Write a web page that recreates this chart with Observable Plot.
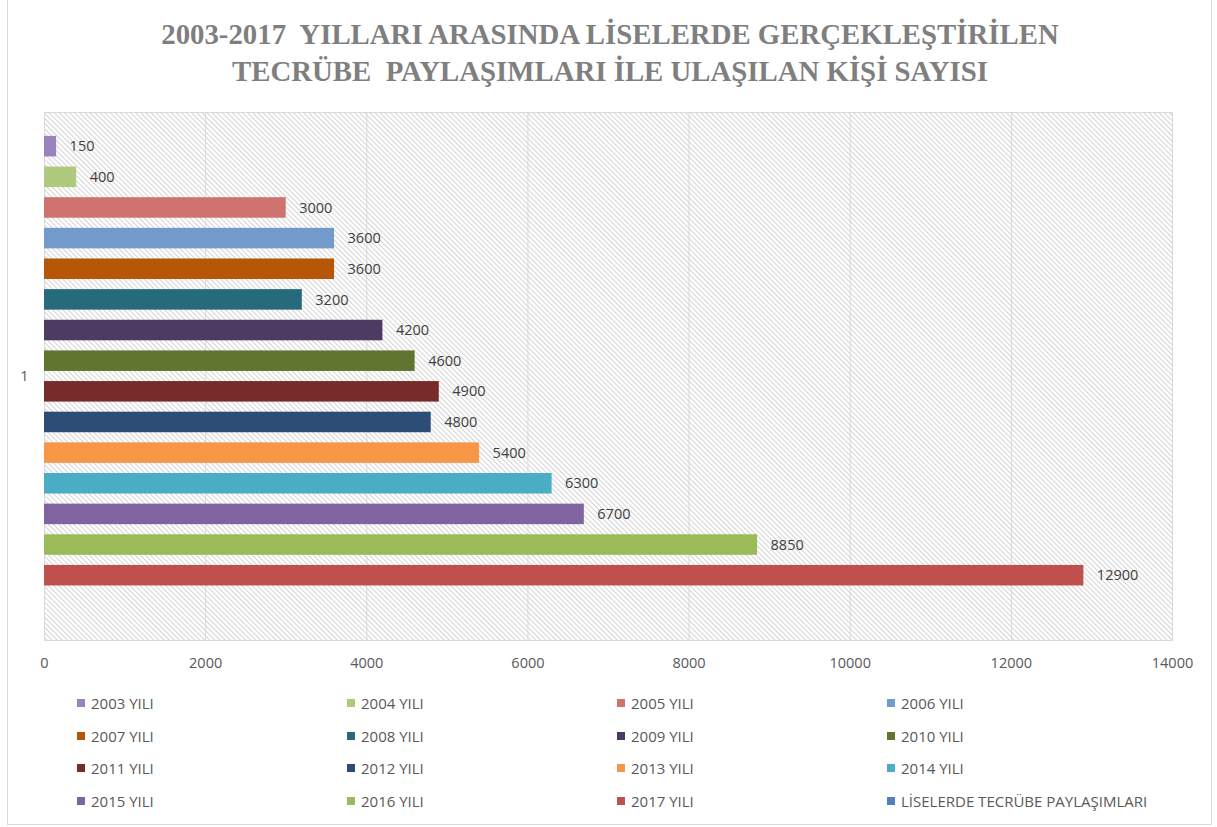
<!DOCTYPE html>
<html>
<head>
<meta charset="utf-8">
<script src="https://cdn.jsdelivr.net/npm/d3@7"></script>
<script src="https://cdn.jsdelivr.net/npm/@observablehq/plot@0.6"></script>
<style>
  html, body { margin: 0; padding: 0; background: #fff; }
  #wrap { position: relative; width: 1217px; height: 827px; overflow: hidden; }
  #border { position: absolute; left: 7px; top: -1px; width: 1205px; height: 826px; border: 1px solid #d9d9d9; box-sizing: border-box; }
  #title { position: absolute; left: 7px; top: 16px; width: 1206px; text-align: center; white-space: pre;
    font-family: "Liberation Serif", serif; font-weight: bold; font-size: 28.8px; line-height: 37px; color: #7f7f7f; }
  #chart { position: absolute; left: 0; top: 100px; }
  #legend { position: absolute; left: 77px; top: 687px; display: grid; grid-template-columns: repeat(4, 270px); grid-auto-rows: 32.5px;
    font-family: "Open Sans", sans-serif; font-size: 15px; color: #595959; }
  .item { display: flex; align-items: center; }
  .sw { width: 8px; height: 8px; margin-right: 6px; flex: none; }
</style>
</head>
<body>
<div id="wrap">
  <div id="border"></div>
  <div id="title"></div>
  <div id="chart"></div>
  <div id="legend"></div>
</div>
<script>
const titleLines = ["2003-2017  YILLARI ARASINDA LİSELERDE GERÇEKLEŞTİRİLEN", "TECRÜBE  PAYLAŞIMLARI İLE ULAŞILAN KİŞİ SAYISI"];
const category = "1";
const series = ["2003 YILI","2004 YILI","2005 YILI","2006 YILI","2007 YILI","2008 YILI","2009 YILI","2010 YILI",
  "2011 YILI","2012 YILI","2013 YILI","2014 YILI","2015 YILI","2016 YILI","2017 YILI","LİSELERDE TECRÜBE PAYLAŞIMLARI"];
const values = [150, 400, 3000, 3600, 3600, 3200, 4200, 4600, 4900, 4800, 5400, 6300, 6700, 8850, 12900, null];
const colors = ["#9983bd","#afca7c","#cf7371","#729aca","#b65708","#276a7c","#4e3b62","#5f7530",
  "#772c2a","#2c4d75","#f79646","#4bacc6","#8064a2","#9bbb59","#c0504d","#4f81bd"];
const xTicks = [0, 2000, 4000, 6000, 8000, 10000, 12000, 14000];

document.getElementById("title").textContent = titleLines.join("\n");

const data = series.map((s, i) => ({series: s, value: values[i], cat: category}));
const shown = data.filter(d => d.value != null);

const chart = Plot.plot({
  width: 1217,
  height: 580,
  marginLeft: 44,
  marginRight: 45,
  marginTop: 12,
  marginBottom: 40,
  style: {fontFamily: "Open Sans, sans-serif", fontSize: "14.5px", color: "#595959", background: "transparent"},
  x: {domain: [0, 14000], ticks: xTicks, tickSize: 0, tickPadding: 17, label: null, tickFormat: d => String(d)},
  y: {domain: series, axis: null, paddingInner: 0.33, paddingOuter: 0.78, round: false},
  fy: {domain: [category], padding: 0, label: null, tickSize: 0, tickPadding: 16, round: false},
  color: {domain: series, range: colors},
  marks: [
    Plot.frame({fill: "url(#hatch)", stroke: "#d9d9d9"}),
    Plot.gridX(xTicks, {stroke: "#d9d9d9", strokeOpacity: 1}),
    Plot.ruleX([0], {stroke: "#d9d9d9"}),
    Plot.barX(shown, {x: "value", y: "series", fy: "cat", fill: "series", inset: 0}),
    Plot.text(shown, {x: "value", y: "series", fy: "cat", text: d => String(d.value), textAnchor: "start", dx: 13,
      fill: "#404040", fontSize: 14.5})
  ]
});

const ns = "http://www.w3.org/2000/svg";
const defs = document.createElementNS(ns, "defs");
defs.innerHTML = '<pattern id="hatch" patternUnits="userSpaceOnUse" width="3.6" height="3.6" patternTransform="rotate(-45)">' +
  '<rect width="3.6" height="3.6" fill="#ffffff"/><line x1="0.5" y1="0" x2="0.5" y2="3.6" stroke="#d2d2d2" stroke-width="1"/></pattern>';
chart.insertBefore(defs, chart.firstChild);
document.getElementById("chart").appendChild(chart);

const legend = document.getElementById("legend");
series.forEach((s, i) => {
  const it = document.createElement("div");
  it.className = "item";
  const sw = document.createElement("span");
  sw.className = "sw";
  sw.style.background = colors[i];
  const tx = document.createElement("span");
  tx.textContent = s;
  it.appendChild(sw);
  it.appendChild(tx);
  legend.appendChild(it);
});
</script>
</body>
</html>
